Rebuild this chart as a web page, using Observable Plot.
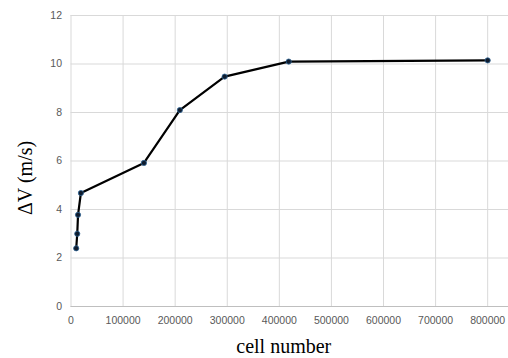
<!DOCTYPE html>
<html>
<head>
<meta charset="utf-8">
<script src="https://cdn.jsdelivr.net/npm/d3@7"></script>
<script src="https://cdn.jsdelivr.net/npm/@observablehq/plot@0.6"></script>
<style>
  html, body { margin: 0; padding: 0; background: #fff; }
  #chart svg { display: block; }
</style>
</head>
<body>
<div id="chart"></div>
<script>
const cellNumbers = [10000, 12000, 13500, 19000, 140000, 209000, 295000, 418000, 800000];
const deltaV = [2.4, 3.0, 3.78, 4.68, 5.92, 8.1, 9.48, 10.1, 10.15];
const xTicks = [0, 100000, 200000, 300000, 400000, 500000, 600000, 700000, 800000];
const yTicks = [0, 2, 4, 6, 8, 10, 12];
const xLabel = "cell number";
const yLabel = "ΔV (m/s)";

const data = cellNumbers.map((c, i) => ({cells: c, dv: deltaV[i]}));

const chart = Plot.plot({
  width: 508,
  height: 358,
  marginLeft: 70.5,
  marginRight: 0,
  marginTop: 15,
  marginBottom: 52,
  style: {fontFamily: "Liberation Sans, Arial, sans-serif", fontSize: "10.5px", background: "#fff"},
  x: {domain: [0, 840000]},
  y: {domain: [0, 12]},
  marks: [
    Plot.gridX(xTicks, {stroke: "#d9d9d9", strokeOpacity: 1, strokeWidth: 1}),
    Plot.gridY(yTicks, {stroke: "#d9d9d9", strokeOpacity: 1, strokeWidth: 1}),
    Plot.ruleY([0], {stroke: "#bfbfbf", strokeWidth: 1}),
    Plot.axisX(xTicks, {tickSize: 0, tickPadding: 10, tickFormat: d => String(d), fill: "#595959", label: null}),
    Plot.axisY(yTicks, {tickSize: 0, tickPadding: 9, fill: "#595959", label: null}),
    Plot.line(data, {x: "cells", y: "dv", stroke: "#000", strokeWidth: 2.2}),
    Plot.dot(data, {x: "cells", y: "dv", r: 2.6, fill: "#0f1c2e", stroke: "#2f6496", strokeWidth: 0.8}),
    Plot.text([xLabel], {text: d => d, frameAnchor: "bottom", dx: -6, dy: 46,
      fontFamily: "Liberation Serif, serif", fontSize: 20, fill: "#000"}),
    Plot.text([yLabel], {text: d => d, frameAnchor: "left", rotate: -90, dx: -45.5, dy: 54,
      fontFamily: "Liberation Serif, serif", fontSize: 20, fill: "#000"})
  ]
});
document.getElementById("chart").appendChild(chart);
</script>
</body>
</html>
